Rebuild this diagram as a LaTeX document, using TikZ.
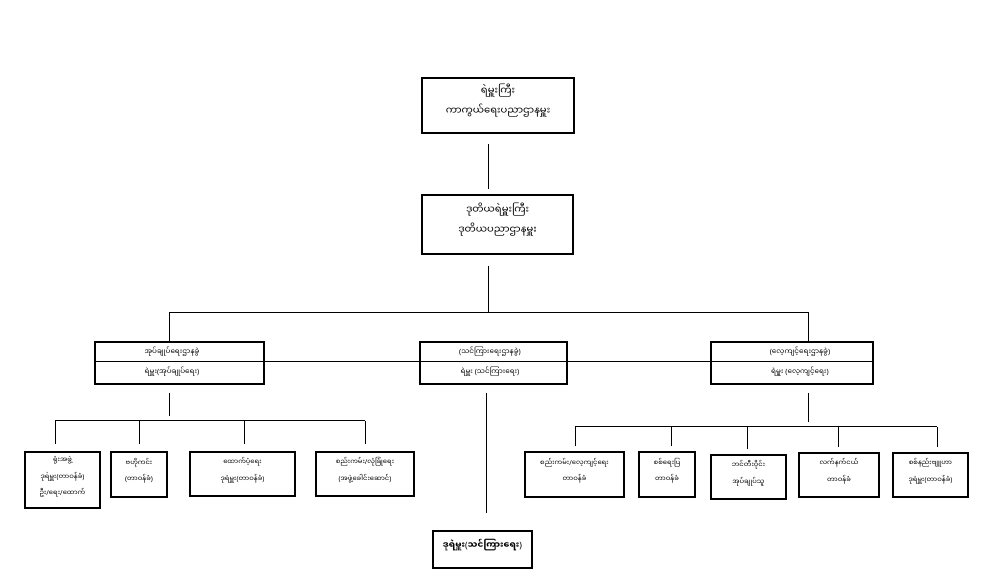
\documentclass[tikz,border=0pt]{standalone}
\usepackage{fontspec}
\newfontfamily\my[Script=Myanmar]{Noto Sans Myanmar UI}
\newfontfamily\lat{Noto Sans}
\newcommand\Lpar{{\lat(}}
\newcommand\Rpar{{\lat)}}
\newcommand\Sl{{\lat/}}
\usetikzlibrary{fit}
\begin{document}
\begin{tikzpicture}[x=0.75pt,y=-0.75pt,
  big/.style={draw, line width=1.5pt, inner sep=0pt, align=center, font=\my\fontsize{7.5}{15}\selectfont},
  mid/.style={draw, line width=1.2pt, inner sep=0pt},
  small/.style={draw, line width=1.5pt, inner sep=0pt, align=center, font=\my\fontsize{5.1}{12.5}\selectfont},
  lbl/.style={inner sep=0pt, font=\my\fontsize{5.4}{8}\selectfont},
  conn/.style={line width=0.75pt},
  boldbox/.style={draw, line width=1.5pt, inner sep=0pt, align=center, font=\my\bfseries\fontsize{6.6}{9}\selectfont}]
\useasboundingbox (0,0) rectangle (983,577);
\fill[white] (0,0) rectangle (983,577);

% top levels
\node[big, fit={(422,78) (574,133)}] (chief) {ရဲမှူးကြီး\\ကာကွယ်ရေးပညာဌာနမှူး};
\node[big, fit={(422,195) (573,254)}] (deputy) {ဒုတိယရဲမှူးကြီး\\ဒုတိယပညာဌာနမှူး};

% middle level boxes
\node[mid, fit={(95,342) (264,384)}] (adm) {};
\node[mid, fit={(420,342) (567,384)}] (tea) {};
\node[mid, fit={(711,342) (873,384)}] (trn) {};
\coordinate (dv) at (0,362);
\draw[conn] (adm.west |- dv) -- (trn.east |- dv);
\node[lbl] (admA) at (172,352) {အုပ်ချုပ်ရေးဌာနခွဲ};
\node[lbl] (admB) at (172,372) {ရဲမှူး\Lpar အုပ်ချုပ်ရေး\Rpar};
\node[lbl] (teaA) at (490,352) {\Lpar သင်ကြားရေးဌာနခွဲ\Rpar};
\node[lbl] (teaB) at (490,372) {ရဲမှူး \Lpar သင်ကြားရေး\Rpar};
\node[lbl] (trnA) at (800,352) {\Lpar လေ့ကျင့်ရေးဌာနခွဲ\Rpar};
\node[lbl] (trnB) at (800,372) {ရဲမှူး \Lpar လေ့ကျင့်ရေး\Rpar};

% bottom-left boxes
\node[small, fit={(25,452) (100,508)}] (l1) {ရုံးအဖွဲ့\\ဒုရဲမှူး\Lpar တာဝန်ခံ\Rpar\\ဦး\Sl ရေး\Sl ထောက်};
\node[small, fit={(111,452) (167,497)}] (l2) {ဗဟိုကင်း\\\Lpar တာဝန်ခံ\Rpar};
\node[small, fit={(190,452) (295,496)}] (l3) {ထောက်ပံ့ရေး\\ဒုရဲမှူး\Lpar တာဝန်ခံ\Rpar};
\node[small, fit={(316,452) (414,496)}] (l4) {စည်းကမ်း\Sl လုံခြုံရေး\\\Lpar အဖွဲ့ခေါင်းဆောင်\Rpar};

% bottom-right boxes
\node[small, fit={(525,452) (624,497)}] (r1) {စည်းကမ်း\Sl လေ့ကျင့်ရေး\\တာဝန်ခံ};
\node[small, fit={(639,452) (695,497)}] (r2) {စစ်ရေးပြ\\တာဝန်ခံ};
\node[small, fit={(711,455) (786,499)}] (r3) {ဘင်တီးဝိုင်း\\အုပ်ချုပ်သူ};
\node[small, fit={(799,453) (879,497)}] (r4) {လက်နက်ငယ်\\တာဝန်ခံ};
\node[small, fit={(893,453) (968,497)}] (r5) {စစ်နည်းဗျူဟာ\\ဒုရဲမှူး\Lpar တာဝန်ခံ\Rpar};

% bottom centre
\node[boldbox, fit={(433,531) (532,568)}] (dt) {ဒုရဲမှူး\Lpar သင်ကြားရေး\Rpar};

% connectors
\coordinate (c0) at (488,0);
\draw[conn, shorten <=7.5pt, shorten >=3.75pt] (chief.south -| c0) -- (deputy.north -| c0);
\coordinate (jm) at (488,313);
\coordinate (jl) at (169,313);
\coordinate (jr) at (808,313);
\draw[conn, shorten <=8.25pt] (deputy.south -| jm) -- (jm);
\draw[conn] (adm.north -| jl) -- (jl) -- (jr) -- (trn.north -| jr);

% left branch
\coordinate (hl) at (169,421);
\draw[conn, shorten <=6pt, shorten >=4pt] (adm.south -| hl) -- (hl);
\coordinate (hl1) at (55,421);
\coordinate (hl2) at (139,421);
\coordinate (hl3) at (244,421);
\coordinate (hl4) at (365,421);
\draw[conn] (hl1) -- (hl4);
\draw[conn, shorten >=5pt] (hl1) -- (l1.north -| hl1);
\draw[conn, shorten >=5pt] (hl2) -- (l2.north -| hl2);
\draw[conn, shorten >=5pt] (hl3) -- (l3.north -| hl3);
\draw[conn, shorten >=5pt] (hl4) -- (l4.north -| hl4);

% centre branch
\coordinate (cc) at (486,0);
\draw[conn, shorten <=6pt, shorten >=12.75pt] (tea.south -| cc) -- (dt.north -| cc);

% right branch
\coordinate (hr) at (808,427);
\draw[conn, shorten <=6pt, shorten >=3.75pt] (trn.south -| hr) -- (hr);
\coordinate (hr1) at (575,427);
\coordinate (hr2) at (671,427);
\coordinate (hr3) at (747,427);
\coordinate (hr4) at (838,427);
\coordinate (hr5) at (937,427);
\draw[conn] (hr1) -- (hr5);
\draw[conn, shorten >=4pt] (hr1) -- (r1.north -| hr1);
\draw[conn, shorten >=4pt] (hr2) -- (r2.north -| hr2);
\draw[conn, shorten >=4pt] (hr3) -- (r3.north -| hr3);
\draw[conn, shorten >=4pt] (hr4) -- (r4.north -| hr4);
\draw[conn, shorten >=4pt] (hr5) -- (r5.north -| hr5);
\end{tikzpicture}
\end{document}
